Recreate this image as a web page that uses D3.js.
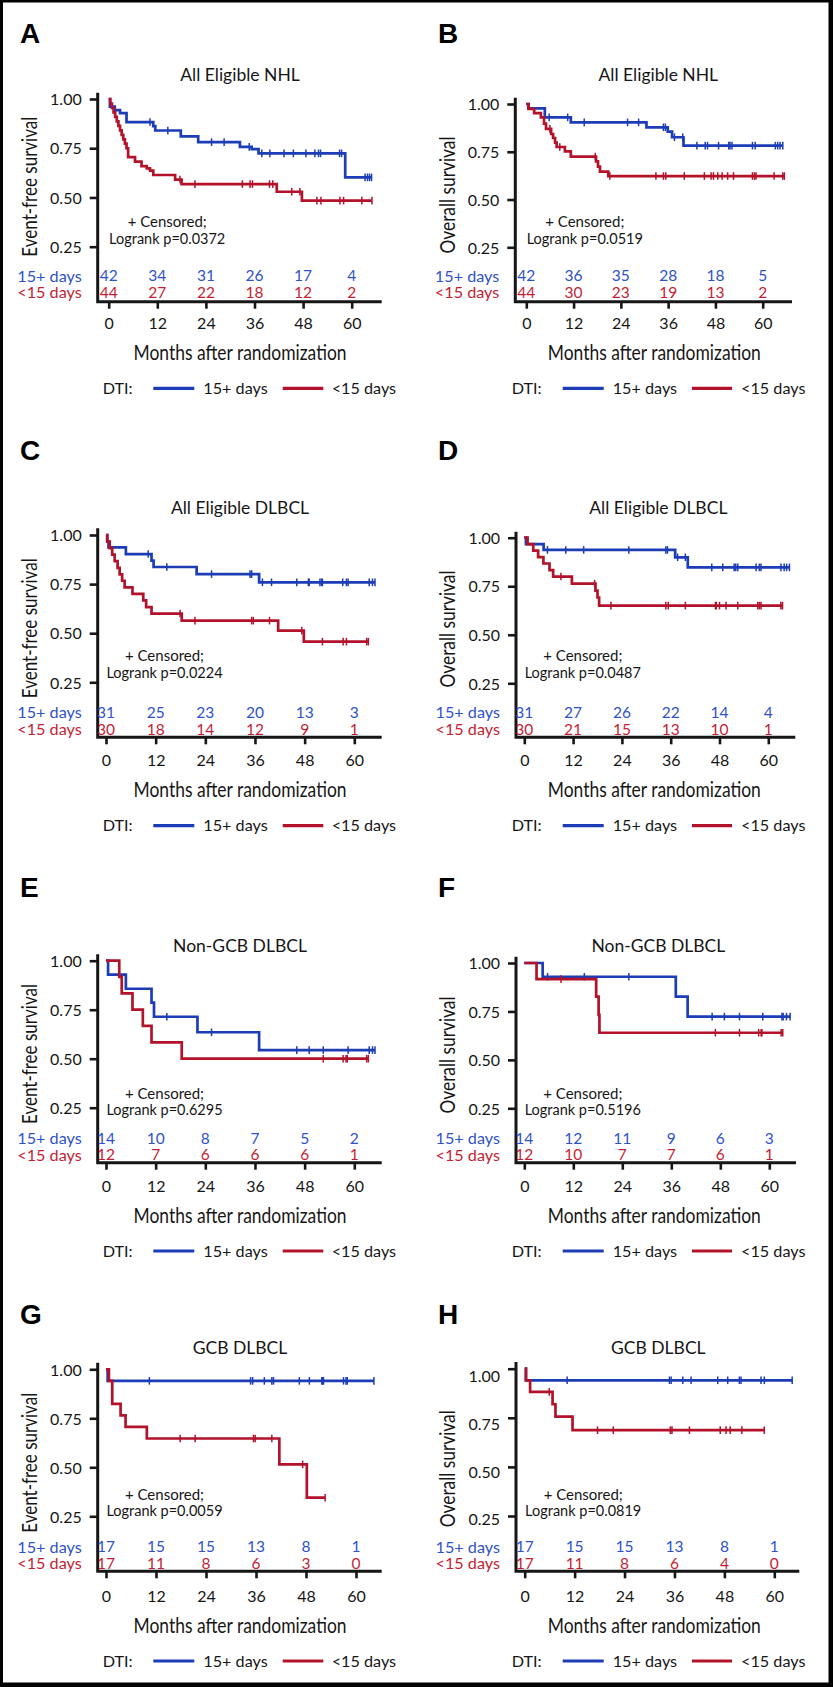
<!DOCTYPE html>
<html><head><meta charset="utf-8">
<script src="https://cdn.jsdelivr.net/npm/d3@7"></script>
<style>
body{margin:0;background:#fff}
svg{display:block}
text{font-family:Lato,'Open Sans',sans-serif}
</style>
</head><body>
<svg id="c" width="833" height="1687"></svg>
<script>
// ---------------- DATA ----------------
const timeTicks = [0, 12, 24, 36, 48, 60];
const survTicks = [0.25, 0.5, 0.75, 1.0];
const groupNames = ["15+ days", "<15 days"];

const titles = ["All Eligible NHL", "All Eligible NHL", "All Eligible DLBCL", "All Eligible DLBCL",
                "Non-GCB DLBCL", "Non-GCB DLBCL", "GCB DLBCL", "GCB DLBCL"];
const yTitles = ["Event-free survival", "Overall survival"];
const pValues = ["0.0372", "0.0519", "0.0224", "0.0487", "0.6295", "0.5196", "0.0059", "0.0819"];

// Panel A: EFS, all eligible NHL
const stepsA15 = [[0.3,0.961],[1.5,0.944],[2.8,0.928],[4.4,0.883],[11.0,0.862],[11.5,0.840],[17.8,0.810],[22.1,0.781],[32.4,0.757],[35.3,0.745],[37.0,0.724],[58.4,0.602]];
const censA15 = [10.2,14.6,25.4,28.5,34.7,37.8,39.8,43.3,45.6,48.7,50.9,51.8,52.3,57.0,57.5,63.3,63.9,64.4];
const endA15 = 64.9;
const stepsA14 = [[0.4,0.977],[0.8,0.955],[1.2,0.932],[1.6,0.909],[2.0,0.886],[2.4,0.864],[2.8,0.841],[3.2,0.818],[3.6,0.795],[4.0,0.773],[4.4,0.750],[4.8,0.705],[6.5,0.682],[8.1,0.659],[9.4,0.648],[10.2,0.636],[11.0,0.614],[16.4,0.591],[18.0,0.568],[41.5,0.529],[47.7,0.484]];
const censA14 = [17.6,21.3,33.0,34.9,35.5,39.7,40.5,45.2,47.2,51.4,52.4,57.1,58.0,62.5];
const endA14 = 65.0;
const riskA15 = [42,34,31,26,17,4];
const riskA14 = [44,27,22,18,12,2];

// Panel B: OS, all eligible NHL
const stepsB15 = [[0.5,0.977],[4.7,0.930],[11.3,0.904],[30.5,0.878],[35.9,0.855],[37.0,0.826],[39.9,0.782]];
const censB15 = [5.8,10.5,14.7,25.7,28.5,34.8,35.3,37.6,39.7,43.3,45.4,46.0,48.8,51.4,51.7,52.2,57.4,58.1,63.2,63.8,64.4];
const endB15 = 65.1;
const stepsB14 = [[0.6,0.975],[2.0,0.952],[3.7,0.930],[4.5,0.897],[5.0,0.870],[6.3,0.843],[6.8,0.822],[7.3,0.798],[7.7,0.775],[9.8,0.752],[11.3,0.725],[17.7,0.700],[18.2,0.672],[18.7,0.646],[20.8,0.623]];
const censB14 = [6.0,8.5,17.5,21.2,32.9,34.8,35.4,40.1,45.2,46.9,47.5,48.6,49.7,51.1,52.6,57.4,57.9,58.3,62.9,65.1];
const endB14 = 65.5;
const riskB15 = [42,36,35,28,18,5];
const riskB14 = [44,30,23,19,13,2];

// Panel C: EFS, all eligible DLBCL
const stepsC15 = [[0.3,0.968],[0.6,0.937],[4.8,0.903],[11.0,0.870],[11.5,0.837],[21.9,0.801],[37.0,0.759]];
const censC15 = [10.2,14.7,25.5,34.8,35.2,37.8,40.0,46.1,48.9,49.1,51.7,52.1,52.3,57.2,58.1,58.5,63.6,64.4];
const endC15 = 65.0;
const stepsC14 = [[0.3,0.967],[0.9,0.933],[1.5,0.900],[2.1,0.867],[2.8,0.833],[3.3,0.800],[3.9,0.767],[4.5,0.733],[6.4,0.700],[9.0,0.667],[9.7,0.633],[11.0,0.600],[18.3,0.564],[41.6,0.513],[47.8,0.457]];
const censC14 = [17.9,21.5,35.2,35.6,39.5,47.3,52.3,57.3,58.1,63.0];
const endC14 = 63.4;
const riskC15 = [31,25,23,20,13,3];
const riskC14 = [30,18,14,12,9,1];

// Panel D: OS, all eligible DLBCL
const stepsD15 = [[0.4,0.967],[4.75,0.937],[37.1,0.899],[40.2,0.847]];
const censD15 = [5.7,10.2,14.6,25.7,34.8,35.2,37.7,39.6,46.1,48.8,51.6,52.0,52.5,57.0,57.8,58.2,63.1,63.9,64.5];
const endD15 = 65.2;
const stepsD14 = [[0.8,0.967],[2.2,0.933],[3.4,0.900],[4.7,0.867],[6.2,0.833],[7.1,0.800],[11.7,0.763],[17.5,0.727],[18.0,0.692],[18.4,0.650]];
const censD14 = [9.0,17.3,21.3,34.8,35.4,39.6,47.0,47.2,48.0,49.6,52.5,57.4,57.8,58.2,63.1];
const endD14 = 63.5;
const riskD15 = [31,27,26,22,14,4];
const riskD14 = [30,21,15,13,10,1];

// Panel E: EFS, non-GCB DLBCL
const stepsE15 = [[0.5,0.929],[4.8,0.857],[11.0,0.786],[11.6,0.714],[22.1,0.635],[37.0,0.544]];
const censE15 = [14.7,25.5,46.1,49.1,52.5,58.5,63.6,64.4];
const endE15 = 65.0;
const stepsE14 = [[3.2,0.917],[3.8,0.833],[6.4,0.750],[8.9,0.667],[11.0,0.583],[18.3,0.500]];
const censE14 = [52.5,57.3,58.0,58.3,63.0];
const endE14 = 63.4;
const riskE15 = [14,10,8,7,5,2];
const riskE14 = [12,7,6,6,6,1];

// Panel F: OS, non-GCB DLBCL
const stepsF15 = [[4.5,0.929],[37.1,0.826],[40.0,0.723]];
const censF15 = [5.7,14.7,25.6,46.0,49.0,52.7,58.4,63.1,63.4,64.2];
const endF15 = 65.1;
const stepsF14 = [[3.0,0.917],[17.6,0.826],[18.2,0.732],[18.4,0.640]];
const censF14 = [9.0,46.8,52.7,57.4,58.0,58.2,62.9];
const endF14 = 63.3;
const riskF15 = [14,12,11,9,6,3];
const riskF14 = [12,10,7,7,6,1];

// Panel G: EFS, GCB DLBCL
const stepsG15 = [[0.4,0.941]];
const censG15 = [10.4,34.7,35.2,38.0,39.8,40.2,46.4,48.8,51.8,52.0,52.2,57.0,57.6,57.9];
const endG15 = 64.3;
const stepsG14 = [[0.7,0.941],[1.5,0.824],[3.5,0.765],[4.7,0.706],[9.8,0.647],[41.6,0.515],[48.2,0.345]];
const censG14 = [17.8,21.4,35.4,35.8,39.8,47.2];
const endG14 = 52.6;
const riskG15 = [17,15,15,13,8,1];
const riskG14 = [17,11,8,6,3,0];

// Panel H: OS, GCB DLBCL
const stepsH15 = [[0.3,0.941]];
const censH15 = [10.2,34.8,35.2,38.0,40.0,46.4,48.8,51.6,52.0,56.8,57.6];
const endH15 = 64.3;
const stepsH14 = [[0.3,0.941],[1.3,0.882],[6.7,0.819],[7.4,0.756],[11.5,0.687]];
const censH14 = [5.9,17.5,21.3,35.0,35.4,39.6,47.0,48.4,49.4,52.2];
const endH14 = 57.6;
const riskH15 = [17,15,15,13,8,1];
const riskH14 = [17,11,8,6,4,0];

// ---------------- LAYOUT ----------------
const BLUE = "#1c3db5", RED = "#b3122b", BLUE_T = "#2f52c9", RED_T = "#c41e35", INK = "#161616";

const series = {
  A: [[stepsA15, censA15, endA15, riskA15], [stepsA14, censA14, endA14, riskA14]],
  B: [[stepsB15, censB15, endB15, riskB15], [stepsB14, censB14, endB14, riskB14]],
  C: [[stepsC15, censC15, endC15, riskC15], [stepsC14, censC14, endC14, riskC14]],
  D: [[stepsD15, censD15, endD15, riskD15], [stepsD14, censD14, endD14, riskD14]],
  E: [[stepsE15, censE15, endE15, riskE15], [stepsE14, censE14, endE14, riskE14]],
  F: [[stepsF15, censF15, endF15, riskF15], [stepsF14, censF14, endF14, riskF14]],
  G: [[stepsG15, censG15, endG15, riskG15], [stepsG14, censG14, endG14, riskG14]],
  H: [[stepsH15, censH15, endH15, riskH15], [stepsH14, censH14, endH14, riskH14]]
};

const panels = [
  {L:"A",col:0,axisX:97.7,yTop:92.7,y1:99,y025:246.7,axisY:301.7,x0:108.7,x60:351.7,xRight:381.7,titleY:75,letterY:43,risk1:276,risk2:292.7,tickLabY:323.3,xLabY:352.7,legY:388.3,cens1:221.7,cens2:239,yLabY:186.7},
  {L:"B",col:1,axisX:515.3,yTop:97.7,y1:104,y025:247.3,axisY:301.7,x0:526.3,x60:762.7,xRight:792,titleY:75,letterY:43.3,risk1:276,risk2:292.7,tickLabY:323.3,xLabY:352.7,legY:388.3,cens1:221.7,cens2:239,yLabY:195},
  {L:"C",col:0,axisX:97.7,yTop:528.3,y1:535,y025:682.3,axisY:737.3,x0:106,x60:354.3,xRight:381.7,titleY:508.3,letterY:460,risk1:712.7,risk2:729.3,tickLabY:760.7,xLabY:790,legY:825.7,cens1:656,cens2:672.7,yLabY:628.3},
  {L:"D",col:1,axisX:516,yTop:531.7,y1:537.7,y025:683.3,axisY:737.3,x0:524.3,x60:768.3,xRight:795.3,titleY:508.3,letterY:460,risk1:712.7,risk2:729.3,tickLabY:760.7,xLabY:790,legY:825.7,cens1:656,cens2:672.7,yLabY:629},
  {L:"E",col:0,axisX:97.7,yTop:954.3,y1:960.7,y025:1107.7,axisY:1162.7,x0:106,x60:354.3,xRight:381.7,titleY:946,letterY:897.3,risk1:1138.3,risk2:1155,tickLabY:1186.7,xLabY:1216,legY:1251,cens1:1093.3,cens2:1110,yLabY:1054},
  {L:"F",col:1,axisX:516,yTop:956.7,y1:963,y025:1108.3,axisY:1162.7,x0:524.3,x60:769.3,xRight:796,titleY:946,letterY:897.3,risk1:1138.3,risk2:1155,tickLabY:1186.7,xLabY:1216,legY:1251,cens1:1093.3,cens2:1110,yLabY:1055},
  {L:"G",col:0,axisX:97.7,yTop:1362.7,y1:1369.3,y025:1516.3,axisY:1571.3,x0:106,x60:356,xRight:381.7,titleY:1348,letterY:1323.7,risk1:1547,risk2:1563.7,tickLabY:1596.3,xLabY:1625.3,legY:1661,cens1:1494.7,cens2:1511.3,yLabY:1462.8},
  {L:"H",col:1,axisX:516,yTop:1362,y1:1368.7,y025:1516,axisY:1571.3,x0:524.7,x60:774.3,xRight:799.3,titleY:1348,letterY:1323.7,risk1:1547,risk2:1563.7,tickLabY:1596.3,xLabY:1625.3,legY:1661,cens1:1494.7,cens2:1511.3,yLabY:1468.7,lab1:1376,lab025:1518.9}
];
const colLayout = [
  {letterX:20, titleX:240, xLabX:240, yLabX:29.3, dti:102.7, b1:153.3, b2:194.3, bt:203.3, r1:282.7, r2:323.3, rt:331.7},
  {letterX:438, titleX:658.3, xLabX:654.3, yLabX:447.7, dti:511.7, b1:562.7, b2:603.7, bt:612.7, r1:692, r2:732, rt:741}
];

const svg = d3.select("#c");
svg.append("rect").attr("width",833).attr("height",1687).attr("fill","#fff");
// frame
svg.append("rect").attr("x",0).attr("y",0).attr("width",3).attr("height",1687).attr("fill","#000");
svg.append("rect").attr("x",0).attr("y",0).attr("width",833).attr("height",2.5).attr("fill","#000");
svg.append("rect").attr("x",828.5).attr("y",0).attr("width",4.5).attr("height",1687).attr("fill","#000");
svg.append("rect").attr("x",0).attr("y",1682.5).attr("width",833).attr("height",4.5).attr("fill","#000");

panels.forEach((p, i) => {
  const c = colLayout[p.col];
  const g = svg.append("g");
  const x = d3.scaleLinear().domain([0, 60]).range([p.x0, p.x60]);
  const y = d3.scaleLinear().domain([0.25, 1]).range([p.y025, p.y1]);
  const yl = p.lab1 ? d3.scaleLinear().domain([0.25, 1]).range([p.lab025, p.lab1]) : y;

  // panel letter
  g.append("text").attr("x", c.letterX).attr("y", p.letterY)
    .style("font-family", "'Liberation Sans', Arial, sans-serif")
    .attr("font-weight", "bold").attr("font-size", 28).attr("fill", "#000").text(p.L);
  // title
  g.append("text").attr("x", c.titleX).attr("y", p.titleY).attr("dy", "0.35em")
    .attr("text-anchor", "middle").attr("font-size", 17.5).attr("fill", INK).text(titles[i]);

  // y axis ticks
  const yg = g.append("g").attr("transform", `translate(${p.axisX},0)`)
    .call(d3.axisLeft(y).tickValues(survTicks).tickFormat(d3.format(".2f")).tickSize(8).tickPadding(8));
  yg.select(".domain").remove();
  yg.selectAll(".tick line").attr("stroke", INK).attr("stroke-width", 2.6);
  yg.selectAll(".tick text").attr("font-size", 16).attr("fill", INK)
    .attr("y", d => yl(d) - y(d)).attr("dy", "0.36em");

  // x axis ticks
  const xg = g.append("g").attr("transform", `translate(0,${p.axisY})`)
    .call(d3.axisBottom(x).tickValues(timeTicks).tickFormat(d3.format("d")).tickSize(7));
  xg.select(".domain").remove();
  xg.selectAll(".tick line").attr("stroke", INK).attr("stroke-width", 2.6);
  xg.selectAll(".tick text").attr("font-size", 16).attr("fill", INK)
    .attr("y", p.tickLabY - p.axisY).attr("dy", "0.36em");

  // axis lines
  g.append("path").attr("d", `M${p.axisX},${p.yTop}V${p.axisY}H${p.xRight}`)
    .attr("fill", "none").attr("stroke", INK).attr("stroke-width", 3).attr("stroke-linecap", "butt");

  // curves
  const line = d3.line().x(d => x(d[0])).y(d => y(d[1])).curve(d3.curveStepAfter);
  const colors = [BLUE, RED];
  series[p.L].forEach(([steps, cens, end, risk], k) => {
    const last = steps.length ? steps[steps.length - 1][1] : 1;
    const pts = [[0, 1]].concat(steps, [[end, last]]);
    g.append("path").attr("d", line(pts)).attr("fill", "none")
      .attr("stroke", colors[k]).attr("stroke-width", 2.7).attr("stroke-linejoin", "miter");
    const S = t => { let s = 1; for (const [tt, ss] of steps) if (tt <= t) s = ss; return s; };
    g.selectAll(null).data(cens.concat([end])).join("line")
      .attr("x1", d => x(d)).attr("x2", d => x(d))
      .attr("y1", d => y(S(d)) - 3.8).attr("y2", d => y(S(d)) + 3.8)
      .attr("stroke", colors[k]).attr("stroke-width", 1.5);
  });

  // censor / p-value annotation
  const cx = p.x0 + 58.5;
  g.append("text").attr("x", cx).attr("y", p.cens1).attr("dy", "0.35em").attr("text-anchor", "middle")
    .attr("font-size", 15).attr("fill", INK).text("+ Censored;");
  g.append("text").attr("x", cx).attr("y", p.cens2).attr("dy", "0.35em").attr("text-anchor", "middle")
    .attr("font-size", 14.5).attr("fill", INK).text("Logrank p=" + pValues[i]);

  // numbers at risk
  const rowY = [p.risk1, p.risk2], rowC = [BLUE_T, RED_T];
  series[p.L].forEach(([, , , risk], k) => {
    g.append("text").attr("x", p.axisX - 16).attr("y", rowY[k]).attr("dy", "0.35em")
      .attr("text-anchor", "end").attr("font-size", 16.2).attr("fill", rowC[k]).text(groupNames[k]);
    g.selectAll(null).data(risk).join("text")
      .attr("x", (d, j) => x(timeTicks[j])).attr("y", rowY[k]).attr("dy", "0.35em")
      .attr("text-anchor", "middle").attr("font-size", 15.5).attr("fill", rowC[k]).text(d => d);
  });

  // axis titles
  g.append("text").attr("x", c.xLabX).attr("y", p.xLabY).attr("dy", "0.35em")
    .attr("text-anchor", "middle").attr("font-size", 21).attr("fill", INK)
    .attr("textLength", 213).attr("lengthAdjust", "spacingAndGlyphs").text("Months after randomization");
  g.append("text").attr("transform", `translate(${c.yLabX},${p.yLabY}) rotate(-90)`).attr("dy", "0.35em")
    .attr("text-anchor", "middle").attr("font-size", 21).attr("fill", INK)
    .attr("textLength", p.col ? 117 : 140).attr("lengthAdjust", "spacingAndGlyphs").text(yTitles[p.col]);

  // legend
  g.append("text").attr("x", c.dti).attr("y", p.legY).attr("dy", "0.35em")
    .attr("font-size", 16.2).attr("fill", INK).text("DTI:");
  g.append("line").attr("x1", c.b1).attr("x2", c.b2).attr("y1", p.legY).attr("y2", p.legY)
    .attr("stroke", BLUE).attr("stroke-width", 3.2);
  g.append("text").attr("x", c.bt).attr("y", p.legY).attr("dy", "0.35em")
    .attr("font-size", 16.2).attr("fill", INK).text(groupNames[0]);
  g.append("line").attr("x1", c.r1).attr("x2", c.r2).attr("y1", p.legY).attr("y2", p.legY)
    .attr("stroke", RED).attr("stroke-width", 3.2);
  g.append("text").attr("x", c.rt).attr("y", p.legY).attr("dy", "0.35em")
    .attr("font-size", 16.2).attr("fill", INK).text(groupNames[1]);
});
</script>
</body></html>
